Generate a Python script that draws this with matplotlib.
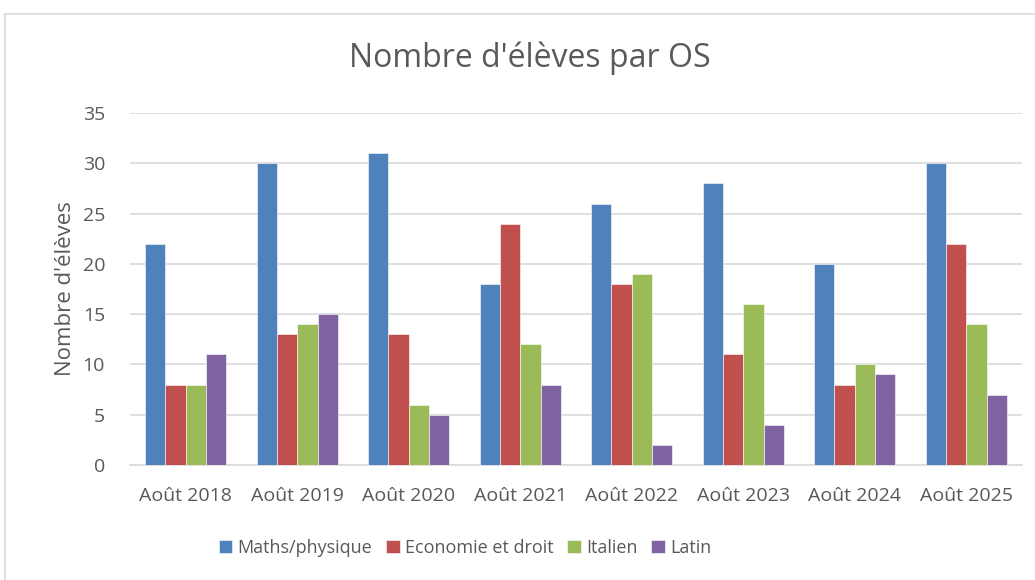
import numpy as np
import matplotlib.pyplot as plt
from matplotlib.patches import Rectangle

years = ['Août 2018', 'Août 2019', 'Août 2020', 'Août 2021',
         'Août 2022', 'Août 2023', 'Août 2024', 'Août 2025']
maths = [22, 30, 31, 18, 26, 28, 20, 30]
eco = [8, 13, 13, 24, 18, 11, 8, 22]
italien = [8, 14, 6, 12, 19, 16, 10, 14]
latin = [11, 15, 5, 8, 2, 4, 9, 7]

series = [('Maths/physique', maths, '#4F81BD'),
          ('Economie et droit', eco, '#C0504D'),
          ('Italien', italien, '#9BBB59'),
          ('Latin', latin, '#8064A2')]

plt.rcParams['font.family'] = ['Open Sans', 'DejaVu Sans']
txt = '#595959'

fig = plt.figure(figsize=(10.35, 5.8), dpi=100)
fig.patches.append(Rectangle((5 / 1035, -0.01), 1.05, 1 - 14 / 580 + 0.01,
                             transform=fig.transFigure, fill=False,
                             edgecolor='#D9D9D9', linewidth=1.2))
ax = fig.add_axes([130 / 1035, 1 - 465 / 580, (1022 - 130) / 1035, (465 - 113) / 580])

x = np.arange(len(years))
w = 1 / 5.5
for i, (name, vals, col) in enumerate(series):
    ax.bar(x + (i - 1.5) * w, vals, width=w, color=col, label=name,
           edgecolor='white', linewidth=0.4, zorder=3)

ax.set_xlim(-0.5, len(years) - 0.5)
ax.set_ylim(0, 35)
ax.set_yticks(range(0, 36, 5))
ax.set_xticks(x)
ax.set_xticklabels(years)
ax.grid(axis='y', color='#D9D9D9', linewidth=1.2, zorder=0)
for s in ['top', 'right', 'left']:
    ax.spines[s].set_visible(False)
ax.spines['bottom'].set_color('#D9D9D9')
ax.spines['bottom'].set_linewidth(1.2)
ax.tick_params(axis='both', length=0, labelsize=14, labelcolor=txt)
ax.tick_params(axis='y', pad=18)
ax.tick_params(axis='x', pad=16)

ax.set_ylabel("Nombre d'élèves", fontsize=16, color=txt, labelpad=5)
fig.text(0.512, 1 - 58 / 580, "Nombre d'élèves par OS", ha='center', va='center',
         fontsize=23, color=txt)

fig.legend(loc='center', bbox_to_anchor=(465 / 1035, 1 - 548 / 580), ncol=4,
           frameon=False, fontsize=13, labelcolor=txt, handlelength=0.75,
           handleheight=0.75, handletextpad=0.3, columnspacing=0.75)

fig.savefig('out.png', dpi=100)
